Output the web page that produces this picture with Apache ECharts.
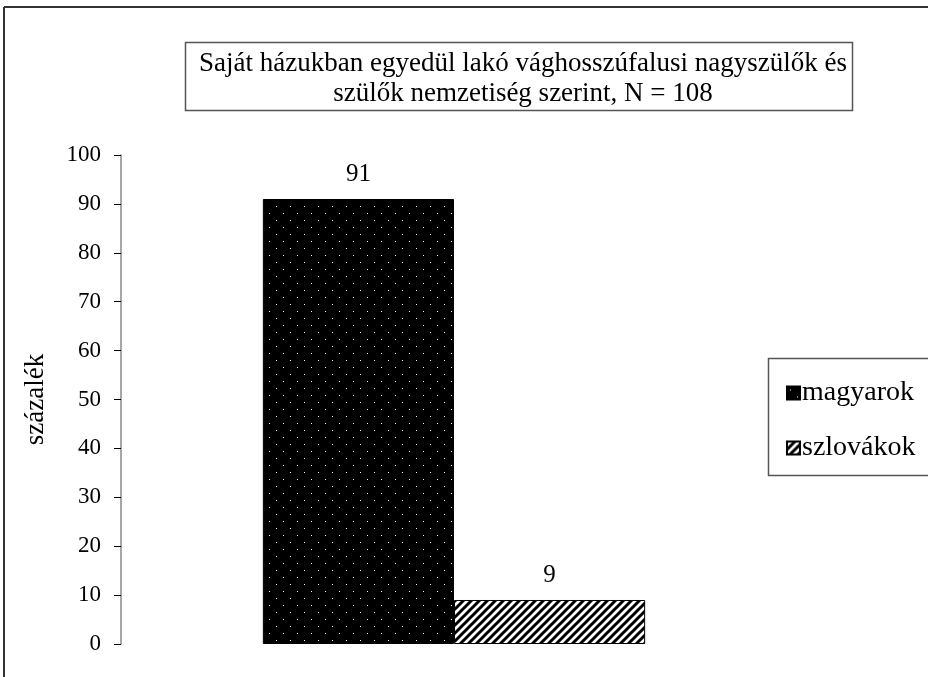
<!DOCTYPE html>
<html>
<head>
<meta charset="utf-8">
<style>
  html, body { margin: 0; padding: 0; background: #fff; }
  #chart { width: 928px; height: 677px; }
</style>
<script src="https://cdn.jsdelivr.net/npm/echarts@6/dist/echarts.min.js"></script>
</head>
<body>
<div id="chart"></div>
<script>
const categories = [''];
const seriesNames = ['magyarok', 'szlovákok'];
const magyarok = [91];
const szlovakok = [9];
const titleText = 'Saját házukban egyedül lakó vághosszúfalusi nagyszülők és\nszülők nemzetiség szerint, N = 108';
const axisName = 'százalék';

const font = '"Liberation Serif", "Times New Roman", serif';

// black with small white dots
const makeDots = function() {
  const c = document.createElement('canvas');
  c.width = 14; c.height = 14;
  const g = c.getContext('2d');
  g.fillStyle = '#000';
  g.fillRect(0, 0, 14, 14);
  g.fillStyle = '#fff';
  g.fillRect(3, 3, 1, 1);
  g.fillRect(10, 10, 1, 1);
  return c;
};

// white with black "/" stripes
const makeHatch = function() {
  const c = document.createElement('canvas');
  c.width = 8; c.height = 8;
  const g = c.getContext('2d');
  g.fillStyle = '#fff';
  g.fillRect(0, 0, 8, 8);
  g.strokeStyle = '#000';
  g.lineWidth = 3;
  g.beginPath();
  g.moveTo(-2, 10); g.lineTo(10, -2);
  g.moveTo(-2, 2); g.lineTo(2, -2);
  g.moveTo(6, 10); g.lineTo(10, 6);
  g.stroke();
  return c;
};

const labelStyle = {
  show: true,
  position: 'top',
  distance: 12,
  color: '#000',
  fontFamily: font,
  fontSize: 25
};

const chart = echarts.init(document.getElementById('chart'));
chart.setOption({
  animation: false,
  backgroundColor: '#fff',
  title: {
    text: titleText,
    left: 518,
    top: 44,
    textAlign: 'center',
    textStyle: { fontFamily: font, fontSize: 27, fontWeight: 'normal', color: '#000', lineHeight: 30 }
  },
  graphic: [
    { type: 'rect', shape: { x: 185.5, y: 42.5, width: 667, height: 68 }, style: { fill: 'none', stroke: '#555', lineWidth: 1.5 }, silent: true },
    { type: 'rect', shape: { x: 768.5, y: 358.5, width: 200, height: 117 }, style: { fill: 'none', stroke: '#555', lineWidth: 1.5 }, silent: true },
    { type: 'line', shape: { x1: 4, y1: 7, x2: 928, y2: 7 }, style: { stroke: '#333', lineWidth: 2 }, silent: true },
    { type: 'line', shape: { x1: 4, y1: 7, x2: 4, y2: 677 }, style: { stroke: '#333', lineWidth: 2 }, silent: true }
  ],
  legend: {
    data: seriesNames,
    orient: 'vertical',
    left: 781,
    top: 374,
    itemWidth: 13,
    itemHeight: 13,
    itemGap: 27,
    icon: 'rect',
    textStyle: { fontFamily: font, fontSize: 28, color: '#000', padding: [0, 0, 0, -3] }
  },
  grid: { left: 121, right: 141, top: 155, bottom: 33 },
  xAxis: {
    type: 'category',
    data: categories,
    axisLine: { show: false },
    axisTick: { show: false },
    axisLabel: { show: false }
  },
  yAxis: {
    type: 'value',
    min: 0,
    max: 100,
    interval: 10,
    name: axisName,
    nameLocation: 'middle',
    nameGap: 72,
    nameTextStyle: { fontFamily: font, fontSize: 27, color: '#000' },
    axisLine: { show: true, lineStyle: { color: '#888', width: 1.5 } },
    axisTick: { show: true, length: 7, lineStyle: { color: '#000', width: 1 } },
    axisLabel: { margin: 20, fontFamily: font, fontSize: 23, color: '#000' },
    splitLine: { show: false }
  },
  series: [
    {
      name: seriesNames[0],
      type: 'bar',
      data: magyarok,
      barGap: '0%',
      barCategoryGap: '42.6%',
      itemStyle: { color: { image: makeDots(), repeat: 'repeat' }, borderColor: '#000', borderWidth: 1 },
      label: labelStyle
    },
    {
      name: seriesNames[1],
      type: 'bar',
      data: szlovakok,
      barGap: '0%',
      barCategoryGap: '42.6%',
      itemStyle: { color: { image: makeHatch(), repeat: 'repeat' }, borderColor: '#000', borderWidth: 1 },
      label: labelStyle
    }
  ]
});
</script>
</body>
</html>
